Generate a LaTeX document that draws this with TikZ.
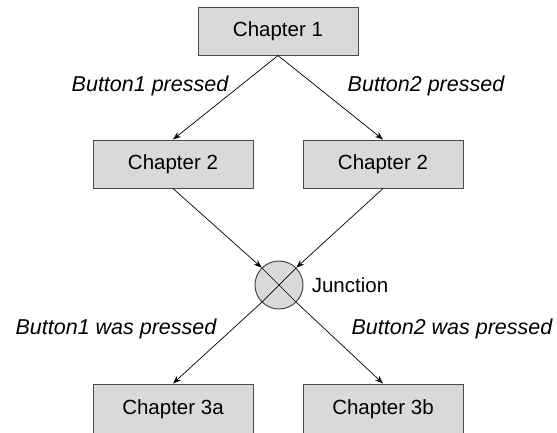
\documentclass[tikz,border=0pt]{standalone}
\usepackage{fontspec}
\setmainfont{Liberation Sans}
\usetikzlibrary{arrows.meta}
\definecolor{boxfill}{HTML}{D9D9D9}
\definecolor{boxline}{HTML}{4A4A4A}
\begin{document}
\begin{tikzpicture}[x=1pt,y=-1pt,
  chapbox/.style={draw=boxline, fill=boxfill, line width=1pt, minimum width=160pt, minimum height=48pt, inner sep=0pt, font=\fontsize{20.5}{24}\selectfont},
  junc/.style={draw=boxline, fill=boxfill, line width=1pt, circle, minimum size=48pt, inner sep=0pt},
  lbl/.style={font=\fontsize{21.5}{25}\selectfont\itshape, inner sep=0pt},
  conn/.style={line width=0.7pt, -{Stealth[length=8pt,width=6pt]}},
  plain/.style={line width=0.7pt}
]
\useasboundingbox (0,0) rectangle (557,432);
\clip (0,0) rectangle (557,432);
\node[chapbox] (c1) at (278,31) {Chapter 1};
\node[chapbox] (c2a) at (173,164) {Chapter 2};
\node[chapbox] (c2b) at (383,164) {Chapter 2};
\node[junc] (j) at (279,285) {};
\draw[plain] (j.45) -- (j.225);
\draw[plain] (j.135) -- (j.-45);
\node[font=\fontsize{20.5}{24}\selectfont, inner sep=0pt] (jl) at (350,285) {Junction};
\node[chapbox, minimum height=56pt] (c3a) at (173,412) {};
\node[chapbox, minimum height=56pt] (c3b) at (383,412) {};
\node[font=\fontsize{20.5}{24}\selectfont, inner sep=0pt] (t3a) at (173,409) {Chapter 3a};
\node[font=\fontsize{20.5}{24}\selectfont, inner sep=0pt] (t3b) at (383,409) {Chapter 3b};
\draw[conn] (c1.south) -- (c2a.north);
\draw[conn] (c1.south) -- (c2b.north);
\draw[conn] (c2a.south) -- (j.135);
\draw[conn] (c2b.south) -- (j.45);
\draw[conn] (j.225) -- (c3a.north);
\draw[conn] (j.-45) -- (c3b.north);
\node[lbl] (l1) at (150,86) {Button1 pressed};
\node[lbl] (l2) at (426,86) {Button2 pressed};
\node[lbl] (l3) at (116,329) {Button1 was pressed};
\node[lbl] (l4) at (452,329) {Button2 was pressed};
\end{tikzpicture}
\end{document}
